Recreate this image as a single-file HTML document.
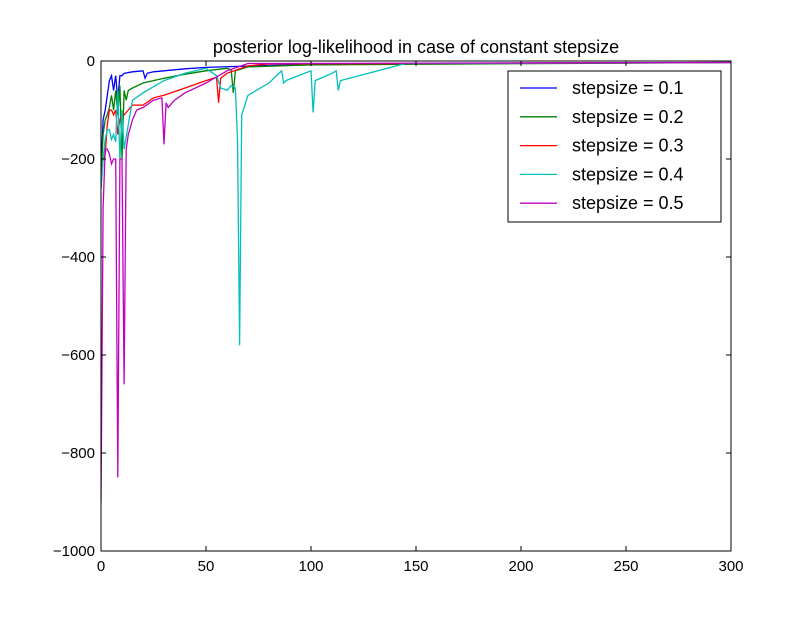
<!DOCTYPE html>
<html><head><meta charset="utf-8"><style>
body{margin:0;background:#fff;font-family:"Liberation Sans","DejaVu Sans",sans-serif}
</style></head><body>
<svg id="chart" width="812" height="612" xmlns="http://www.w3.org/2000/svg"></svg>
<script>
const xTicks=[0,50,100,150,200,250,300];
const yTicks=[0,-200,-400,-600,-800,-1000];
const seriesLabels=["stepsize = 0.1","stepsize = 0.2","stepsize = 0.3","stepsize = 0.4","stepsize = 0.5"];
const seriesColors=["#0000ff","#008000","#ff0000","#00bfbf","#bf00bf"];
const s1x=[0,1,2,3,4,5,6,7,8,9,10,11,15,20,21,22,25,30,40,50,80,150,300];
const s1y=[-230,-120,-100,-70,-40,-30,-60,-30,-80,-30,-30,-25,-22,-20,-35,-25,-22,-20,-16,-13,-9,-5,-3];
const s2x=[0,1,2,3,4,5,6,7,8,9,10,11,12,13,15,20,30,40,50,60,62,63,64,70,100,300];
const s2y=[-240,-150,-120,-110,-95,-70,-100,-60,-110,-50,-200,-60,-80,-60,-55,-45,-35,-27,-20,-15,-18,-65,-20,-12,-8,-3];
const s3x=[0,1,2,3,4,5,6,7,8,9,10,11,13,15,20,25,30,40,50,55,56,57,60,70,80,300];
const s3y=[-260,-200,-190,-130,-100,-100,-110,-100,-150,-120,-110,-110,-100,-90,-90,-75,-70,-55,-40,-33,-85,-35,-25,-10,-6,-3];
const s4x=[0,1,2,3,4,5,6,7,8,9,10,11,15,20,30,40,50,55,57,60,62,64,65,66,67,70,80,86,87,88,100,101,102,110,112,113,114,130,145,300];
const s4y=[-260,-200,-160,-140,-140,-160,-150,-165,-60,-200,-100,-180,-80,-65,-40,-25,-15,-30,-55,-60,-50,-55,-160,-580,-110,-70,-45,-20,-45,-40,-20,-105,-40,-25,-20,-60,-40,-22,-5,-3];
const s5x=[0,1,2,3,4,5,6,7,8,9,10,11,12,13,15,17,20,25,29,30,31,32,35,40,50,60,70,300];
const s5y=[-900,-300,-180,-180,-190,-210,-200,-200,-850,-200,-200,-660,-180,-150,-120,-100,-95,-80,-75,-170,-85,-95,-80,-65,-45,-20,-5,-3];
const allX=[s1x,s2x,s3x,s4x,s5x], allY=[s1y,s2y,s3y,s4y,s5y];

const L=101,R=731,T=61,B=551;
const sx=v=>L+(v-0)/(300-0)*(R-L);
const sy=v=>T+(0-v)/(0+1000)*(B-T);
const NS="http://www.w3.org/2000/svg";
const svg=document.getElementById('chart');
function mk(tag,attrs,parent){const e=document.createElementNS(NS,tag);for(const k in attrs)e.setAttribute(k,attrs[k]);(parent||svg).appendChild(e);return e;}

const title=mk('text',{x:416,y:53,'text-anchor':'middle','font-size':18});
title.textContent='posterior log-likelihood in case of constant stepsize';



const clip=mk('clipPath',{id:'pc'});mk('rect',{x:L,y:T,width:R-L,height:B-T},clip);

allX.forEach((xs,i)=>{
  const d=xs.map((x,j)=>(j?'L':'M')+sx(x).toFixed(1)+','+sy(allY[i][j]).toFixed(1)).join('');
  const p=mk('path',{d:d,fill:'none',stroke:seriesColors[i],'stroke-width':1.3,'clip-path':'url(#pc)'});
  
  
});

const frame=mk('rect',{x:L,y:T,width:R-L,height:B-T,fill:'none',stroke:'#000','stroke-width':1});



xTicks.forEach(t=>{
  const x=sx(t);
  mk('line',{x1:x,x2:x,y1:B,y2:B-5,stroke:'#000'});
  mk('line',{x1:x,x2:x,y1:T,y2:T+5,stroke:'#000'});
  const tx=mk('text',{x:x,y:B+20,'text-anchor':'middle','font-size':15});
  tx.textContent=t;
  
  
});
yTicks.forEach(t=>{
  const y=sy(t);
  mk('line',{x1:L,x2:L+5,y1:y,y2:y,stroke:'#000'});
  mk('line',{x1:R,x2:R-5,y1:y,y2:y,stroke:'#000'});
  const tx=mk('text',{x:L-6,y:y+5,'text-anchor':'end','font-size':15});
  tx.textContent=t===0?'0':'\u2212'+Math.abs(t);
  
  
});

const lg=mk('g',{});


mk('rect',{x:508,y:71,width:213,height:151,fill:'#fff',stroke:'#000'},lg);
seriesLabels.forEach((lab,i)=>{
  const y=88+i*28.8;
  const e=mk('g',{},lg);
  
  
  mk('line',{x1:520,x2:557,y1:y,y2:y,stroke:seriesColors[i],'stroke-width':1.3},e);
  const t=mk('text',{x:572,y:y+6,'font-size':18},e);
  t.textContent=lab;
});
</script>
</body></html>
